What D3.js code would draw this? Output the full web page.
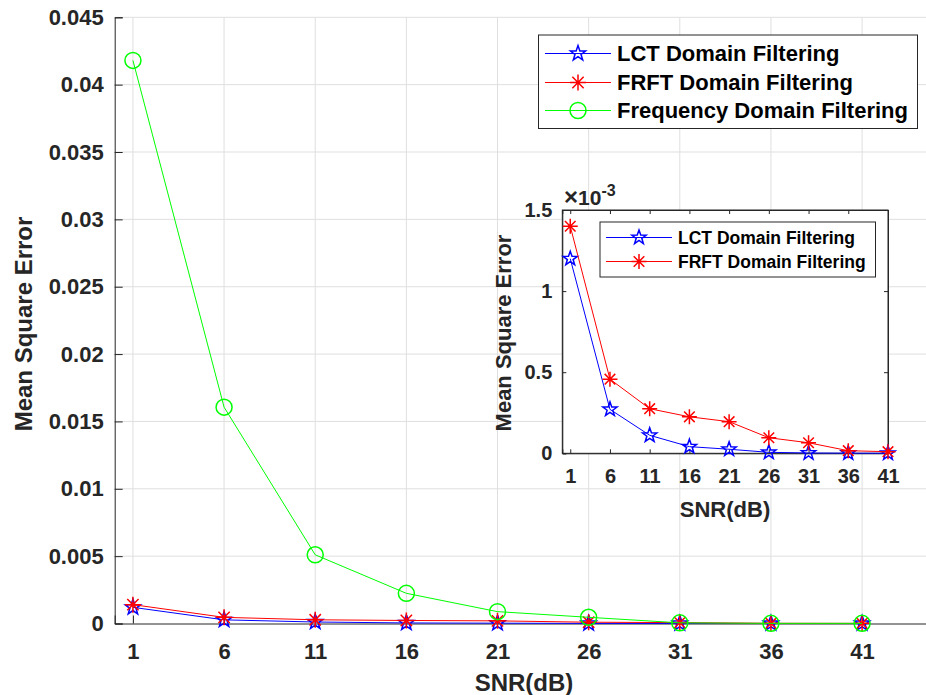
<!DOCTYPE html>
<html>
<head>
<meta charset="utf-8">
<script src="https://cdn.jsdelivr.net/npm/d3@7"></script>
<style>
  body { margin: 0; background: #fff; }
  svg { display: block; font-family: "Liberation Sans", Arial, sans-serif; font-weight: bold; }
</style>
</head>
<body>
<svg id="chart" width="926" height="695"></svg>
<script>
// SNR values and mean square errors
const snr = [1, 6, 11, 16, 21, 26, 31, 36, 41];
const lctMse = [0.00120, 0.000271, 0.000111, 0.000041, 0.000025, 0.000006, 0.000002, 0.000001, 0.0000005];
const frftMse = [0.00140, 0.000457, 0.000275, 0.000225, 0.000195, 0.000096, 0.000065, 0.000016, 0.000010];
const freqMse = [0.0418, 0.01606, 0.0051, 0.00224, 0.00088, 0.00046, 0.00005, 0.00001, 0.00001];
const mainYTicks = [0, 0.005, 0.01, 0.015, 0.02, 0.025, 0.03, 0.035, 0.04, 0.045];
const insetYTicks = [0, 0.5, 1, 1.5];
const seriesNames = ["LCT Domain Filtering", "FRFT Domain Filtering", "Frequency Domain Filtering"];
const seriesColors = ["#0000ff", "#ff0000", "#00ff00"];

const svg = d3.select("#chart");
const AXIS = "#262626";

// marker shapes
function starPath(R) {
  let pts = [];
  for (let i = 0; i < 10; i++) {
    let r = i % 2 === 0 ? R : R * 0.4;
    let a = -Math.PI / 2 + i * Math.PI / 5;
    pts.push([r * Math.cos(a), r * Math.sin(a)]);
  }
  return "M" + pts.map(p => p.join(",")).join("L") + "Z";
}
function asteriskPath(R) {
  let d = "";
  let k = R * Math.SQRT1_2;
  d += `M0,${-R}L0,${R}M${-R},0L${R},0`;
  d += `M${-k},${-k}L${k},${k}M${-k},${k}L${k},${-k}`;
  return d;
}
function drawMarker(g, kind, x, y, size, color) {
  if (kind === 0) {
    g.append("path").attr("d", starPath(size)).attr("transform", `translate(${x},${y})`)
      .attr("fill", "none").attr("stroke", color).attr("stroke-width", 1.5);
  } else if (kind === 1) {
    g.append("path").attr("d", asteriskPath(size)).attr("transform", `translate(${x},${y})`)
      .attr("fill", "none").attr("stroke", color).attr("stroke-width", 1.5);
  } else {
    g.append("circle").attr("cx", x).attr("cy", y).attr("r", size)
      .attr("fill", "none").attr("stroke", color).attr("stroke-width", 1.5);
  }
}

// ---------- main axes ----------
const x = d3.scaleLinear().domain([0, 45]).range([114.7, 935]);
const y = d3.scaleLinear().domain([0, 0.045]).range([623.5, 17.3]);

let main = svg.append("g");

// grid
main.append("g").selectAll("line").data(snr).join("line")
  .attr("x1", d => x(d)).attr("x2", d => x(d)).attr("y1", y(0)).attr("y2", y(0.045))
  .attr("stroke", "#dfdfdf").attr("stroke-width", 1);
main.append("g").selectAll("line").data(mainYTicks.slice(1)).join("line")
  .attr("x1", x(0)).attr("x2", 935).attr("y1", d => y(d)).attr("y2", d => y(d))
  .attr("stroke", "#dfdfdf").attr("stroke-width", 1);

// axes (ticks inward)
let xAxis = main.append("g").attr("transform", `translate(0,${y(0)})`)
  .call(d3.axisBottom(x).tickValues(snr).tickSize(-8).tickPadding(20).tickFormat(d3.format("d")));
let yAxis = main.append("g").attr("transform", `translate(${x(0)},0)`)
  .call(d3.axisLeft(y).tickValues(mainYTicks).tickSize(-8).tickPadding(11)
    .tickFormat(d => d === 0 ? "0" : String(+d.toFixed(3))));
[xAxis, yAxis].forEach(a => {
  a.select(".domain").attr("stroke", AXIS);
  a.selectAll(".tick line").attr("stroke", AXIS);
  a.selectAll(".tick text").attr("fill", AXIS).style("font-size", "22px").style("font-weight", "bold")
    .style("font-family", "'Liberation Sans', Arial, sans-serif");
});
xAxis.selectAll(".tick text").attr("dy", "0.71em");

main.append("text").attr("x", 524).attr("y", 691).attr("text-anchor", "middle")
  .attr("fill", AXIS).style("font-size", "24px").text("SNR(dB)");
main.append("text").attr("transform", "translate(32,324) rotate(-90)").attr("text-anchor", "middle")
  .attr("fill", AXIS).style("font-size", "24px").text("Mean Square Error");

const mainSeries = [lctMse, frftMse, freqMse];
mainSeries.forEach((vals, i) => {
  let line = d3.line().x((d, j) => x(snr[j])).y(d => y(d));
  main.append("path").datum(vals).attr("d", line).attr("fill", "none")
    .attr("stroke", seriesColors[i]).attr("stroke-width", 1);
  let mg = main.append("g");
  vals.forEach((v, j) => drawMarker(mg, i, x(snr[j]), y(v), 8, seriesColors[i]));
});

// main legend
let leg = svg.append("g");
leg.append("rect").attr("x", 538.5).attr("y", 35).attr("width", 379).attr("height", 93.5)
  .attr("fill", "#fff").attr("stroke", AXIS).attr("stroke-width", 1);
const legRows = [53.5, 82.5, 110.5];
seriesNames.forEach((name, i) => {
  leg.append("line").attr("x1", 545).attr("x2", 611).attr("y1", legRows[i]).attr("y2", legRows[i])
    .attr("stroke", seriesColors[i]).attr("stroke-width", 1);
  drawMarker(leg, i, 578, legRows[i], 8, seriesColors[i]);
  leg.append("text").attr("x", 617).attr("y", legRows[i]).attr("dy", "0.36em")
    .attr("fill", "#000").style("font-size", "22px").text(name);
});

// ---------- inset axes ----------
const ix = d3.scaleLinear().domain([0, 41]).range([562.3, 888]);
const iy = d3.scaleLinear().domain([0, 1.5e-3]).range([453.3, 210]);

let inset = svg.append("g");
inset.append("rect").attr("x", ix(0)).attr("y", iy(1.5e-3)).attr("width", ix(41) - ix(0))
  .attr("height", iy(0) - iy(1.5e-3)).attr("fill", "#fff").attr("stroke", AXIS).attr("stroke-width", 1);

let ixAxis = inset.append("g").attr("transform", `translate(0,${iy(0)})`)
  .call(d3.axisBottom(ix).tickValues(snr).tickSize(-4).tickPadding(16).tickFormat(d3.format("d")));
let iyAxis = inset.append("g").attr("transform", `translate(${ix(0)},0)`)
  .call(d3.axisLeft(iy).tickValues(insetYTicks.map(d => d * 1e-3)).tickSize(-4).tickPadding(10)
    .tickFormat(d => String(+(d * 1e3).toFixed(1))));
// ticks on the top and right edges of the box
inset.append("g").attr("transform", `translate(0,${iy(1.5e-3)})`)
  .call(d3.axisTop(ix).tickValues(snr).tickSize(-4).tickFormat(""));
inset.append("g").attr("transform", `translate(${ix(41)},0)`)
  .call(d3.axisRight(iy).tickValues(insetYTicks.map(d => d * 1e-3)).tickSize(-4).tickFormat(""));
inset.selectAll(".domain").attr("stroke", AXIS);
inset.selectAll(".tick line").attr("stroke", AXIS);
[ixAxis, iyAxis].forEach(a => {
  a.selectAll(".tick text").attr("fill", AXIS).style("font-size", "20px").style("font-weight", "bold")
    .style("font-family", "'Liberation Sans', Arial, sans-serif");
});
ixAxis.selectAll(".tick text").attr("dy", "0.71em");

let expo = inset.append("text").attr("x", 564).attr("y", 205).attr("fill", AXIS).style("font-size", "21px");
expo.append("tspan").style("font-size", "24px").text("\u00d7");
expo.append("tspan").text("10");
expo.append("tspan").attr("dy", -9).style("font-size", "16px").text("-3");

inset.append("text").attr("x", 725).attr("y", 517).attr("text-anchor", "middle")
  .attr("fill", AXIS).style("font-size", "22px").text("SNR(dB)");
inset.append("text").attr("transform", "translate(511,333) rotate(-90)").attr("text-anchor", "middle")
  .attr("fill", AXIS).style("font-size", "22px").text("Mean Square Error");

[lctMse, frftMse].forEach((vals, i) => {
  let line = d3.line().x((d, j) => ix(snr[j])).y(d => iy(d));
  inset.append("path").datum(vals).attr("d", line).attr("fill", "none")
    .attr("stroke", seriesColors[i]).attr("stroke-width", 1);
  let mg = inset.append("g");
  vals.forEach((v, j) => drawMarker(mg, i, ix(snr[j]), iy(v), 7.5, seriesColors[i]));
});

// inset legend
inset.append("rect").attr("x", 600).attr("y", 222).attr("width", 275.5).attr("height", 55)
  .attr("fill", "#fff").attr("stroke", AXIS).attr("stroke-width", 1);
const insetRows = [237.5, 261.5];
[0, 1].forEach(i => {
  inset.append("line").attr("x1", 606).attr("x2", 672).attr("y1", insetRows[i]).attr("y2", insetRows[i])
    .attr("stroke", seriesColors[i]).attr("stroke-width", 1);
  drawMarker(inset, i, 639, insetRows[i], 7.5, seriesColors[i]);
  inset.append("text").attr("x", 678).attr("y", insetRows[i]).attr("dy", "0.36em")
    .attr("fill", "#000").style("font-size", "17.5px").text(seriesNames[i]);
});
</script>
</body>
</html>
